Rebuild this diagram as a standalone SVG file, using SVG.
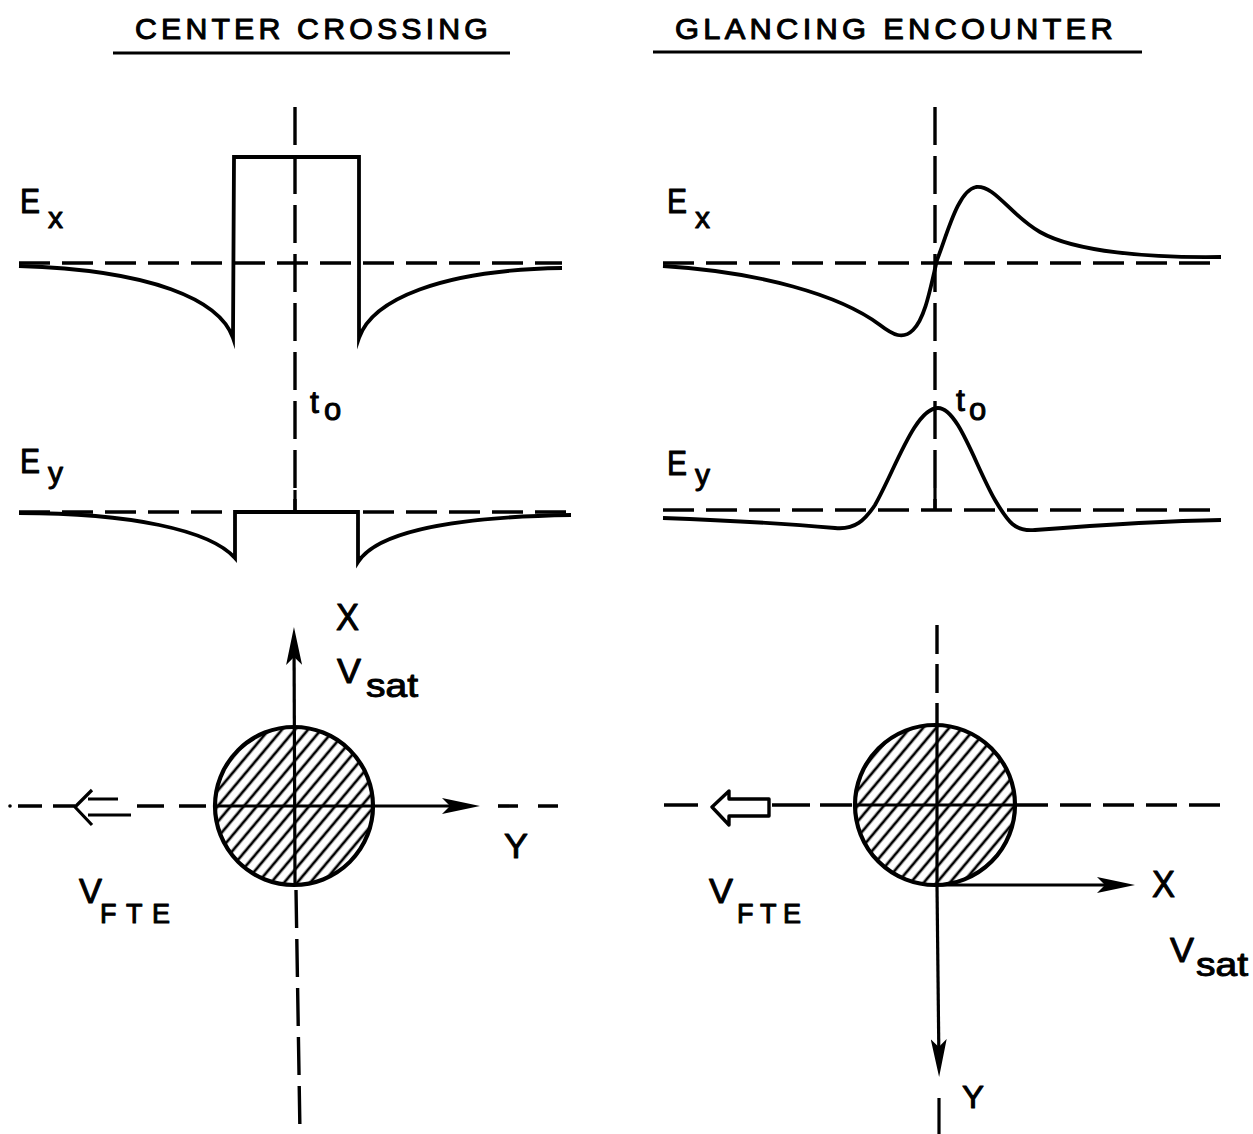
<svg xmlns="http://www.w3.org/2000/svg" width="1253" height="1134" viewBox="0 0 1253 1134">
<defs>
<style>
.cv{fill:none;stroke:#000;stroke-width:3.8;stroke-linejoin:miter;stroke-miterlimit:20}
.sl{fill:none;stroke:#000;stroke-width:3.2}
.dh{fill:none;stroke:#000;stroke-width:3.6;stroke-dasharray:31 12}
.dv{fill:none;stroke:#000;stroke-width:3.4;stroke-dasharray:38 11}
.ul{fill:none;stroke:#000;stroke-width:3.2}
.circ{fill:url(#hatch);stroke:#000;stroke-width:4.2}
.hol{fill:#fff;stroke:#000;stroke-width:3.4;stroke-linejoin:round}
text{font-family:"Liberation Sans",Arial,sans-serif;fill:#000;stroke:#000;stroke-width:1;stroke-linejoin:round}
.ttl{font-size:29px;letter-spacing:4px}
.big{font-size:35px}
.sub{font-size:30px}
</style>
<pattern id="hatch" patternUnits="userSpaceOnUse" width="10" height="10" patternTransform="rotate(40)">
<rect width="10" height="10" fill="#fff"/>
<line x1="5" y1="-1" x2="5" y2="11" stroke="#000" stroke-width="2.7"/>
</pattern>
<marker id="ah" markerUnits="userSpaceOnUse" viewBox="0 0 38 16" markerWidth="38" markerHeight="16" refX="28" refY="8" orient="auto">
<path d="M0,0 L38,8 L0,16 L8,8 Z" fill="#000"/>
</marker>
</defs>
<rect width="1253" height="1134" fill="#fff"/>

<g id="titles">
<text class="ttl" x="135" y="39" textLength="357" lengthAdjust="spacingAndGlyphs">CENTER CROSSING</text>
<line class="ul" x1="113" y1="53" x2="510" y2="53"/>
<text class="ttl" x="675" y="39" textLength="442" lengthAdjust="spacingAndGlyphs">GLANCING ENCOUNTER</text>
<line class="ul" x1="653" y1="52" x2="1142" y2="52"/>
</g>

<g id="left-plots">
<line class="dh" x1="19" y1="263" x2="562" y2="263"/>
<line class="dh" x1="19" y1="512" x2="571" y2="512"/>
<line class="dv" x1="295" y1="107" x2="295" y2="512"/>
<line class="sl" x1="295" y1="490" x2="295" y2="512"/>
<path class="cv" d="M19,266 C152,270 220,300 233,338 L234,157 L359,157 L359,338 C372,300 440,270 562,268"/>
<path class="cv" d="M19,513 C130,513 210,530 235,558 L235,512 L358,512 L358,562 C375,535 440,517 571,515"/>
<g id="left-Ex"><text class="big" x="20" y="213" textLength="20" lengthAdjust="spacingAndGlyphs">E</text><text class="sub" x="48" y="228">x</text></g>
<g id="left-Ey"><text class="big" x="20" y="473" textLength="20" lengthAdjust="spacingAndGlyphs">E</text><text class="sub" x="48" y="483">y</text></g>
<g id="left-t0"><text style="font-size:32px" x="310" y="413">t</text><text style="font-size:31px" x="324" y="420">o</text></g>
</g>

<g id="right-plots">
<line class="dh" x1="663" y1="263" x2="1221" y2="263"/>
<line class="dh" x1="663" y1="510" x2="1221" y2="510"/>
<line class="dv" x1="935" y1="107" x2="935" y2="510"/>
<line class="sl" x1="935" y1="488" x2="935" y2="510"/>
<path class="cv" d="M663,266 C760,272 840,295 880,325 C893,335 903,340 913,330 C925,318 930,290 937,260 C947,235 958,190 976,187 C995,185 1010,215 1040,232 C1075,252 1150,258 1221,257"/>
<path class="cv" d="M663,518 C720,520 790,524 835,528 C855,530 865,520 875,505 C895,470 915,408 938,408 C958,408 975,465 995,500 C1008,522 1015,532 1035,530 C1100,525 1160,521 1221,520"/>
<g id="right-Ex"><text class="big" x="667" y="213" textLength="20" lengthAdjust="spacingAndGlyphs">E</text><text class="sub" x="695" y="228">x</text></g>
<g id="right-Ey"><text class="big" x="667" y="475" textLength="20" lengthAdjust="spacingAndGlyphs">E</text><text class="sub" x="695" y="485">y</text></g>
<g id="right-t0"><text style="font-size:32px" x="956" y="411">t</text><text style="font-size:31px" x="969" y="420">o</text></g>
</g>

<g id="left-geometry">
<circle class="circ" cx="294" cy="806" r="79"/>
<line class="sl" x1="216" y1="806" x2="372" y2="806"/>
<g id="connectors-left">
<line class="sl" x1="295" y1="885" x2="294" y2="637" marker-end="url(#ah)"/>
<line class="sl" x1="372" y1="806" x2="470" y2="806" marker-end="url(#ah)"/>
<line class="dh" x1="498" y1="806" x2="571" y2="806" style="stroke-dasharray:20 20"/>
<line class="dh" x1="18" y1="806" x2="75" y2="806" style="stroke-dasharray:24 11"/>
<circle cx="10" cy="806" r="1.8" fill="#000"/>
<line class="dh" x1="137" y1="806" x2="213" y2="806" style="stroke-dasharray:27 15"/>
<line class="dv" x1="296" y1="890" x2="300" y2="1134"/>
<path class="sl" d="M118,799 H88 M92,790 L75,807 L92,825 M88,815 H131" style="stroke-linejoin:round"/>
</g>
<text class="big" x="336" y="630" style="font-size:36px" textLength="23" lengthAdjust="spacingAndGlyphs">X</text>
<g id="left-Vsat"><text class="big" x="337" y="683" textLength="24" lengthAdjust="spacingAndGlyphs">V</text><text style="font-size:34px" x="366" y="697" textLength="52" lengthAdjust="spacingAndGlyphs">sat</text></g>
<text class="big" x="504" y="858" textLength="24" lengthAdjust="spacingAndGlyphs">Y</text>
<g id="left-VFTE"><text class="big" x="79" y="903" textLength="23" lengthAdjust="spacingAndGlyphs">V</text><text style="font-size:27px" x="100" y="923" textLength="70" lengthAdjust="spacing">FTE</text></g>
</g>

<g id="right-geometry">
<circle class="circ" cx="935" cy="805" r="80"/>
<line class="sl" x1="856" y1="805" x2="1014" y2="805"/>
<line class="sl" x1="937" y1="726" x2="937" y2="885"/>
<g id="connectors-right">
<line class="dv" x1="937" y1="625" x2="937" y2="726" style="stroke-dasharray:29 10"/>
<line class="dh" x1="664" y1="805" x2="706" y2="805" style="stroke-dasharray:34 20"/>
<line class="dh" x1="772" y1="805" x2="852" y2="805" style="stroke-dasharray:38 10"/>
<line class="dh" x1="1017" y1="805" x2="1221" y2="805"/>
<path class="hol" d="M712,807 L729,791 L729,799 L769,799 L769,816 L729,816 L729,825 Z"/>
<line class="sl" x1="935" y1="885" x2="1125" y2="885" marker-end="url(#ah)"/>
<line class="sl" x1="937" y1="885" x2="939" y2="1067" marker-end="url(#ah)"/>
<line class="sl" x1="939" y1="1098" x2="939" y2="1134"/>
</g>
<text class="big" x="1152" y="897" style="font-size:36px" textLength="23" lengthAdjust="spacingAndGlyphs">X</text>
<g id="right-Vsat"><text class="big" x="1170" y="962" textLength="24" lengthAdjust="spacingAndGlyphs">V</text><text style="font-size:34px" x="1196" y="976" textLength="52" lengthAdjust="spacingAndGlyphs">sat</text></g>
<text class="big" x="962" y="1108" style="font-size:32px" textLength="22" lengthAdjust="spacingAndGlyphs">Y</text>
<g id="right-VFTE"><text class="big" x="709" y="903" textLength="24" lengthAdjust="spacingAndGlyphs">V</text><text style="font-size:27px" x="737" y="923" textLength="64" lengthAdjust="spacing">FTE</text></g>
</g>
</svg>
